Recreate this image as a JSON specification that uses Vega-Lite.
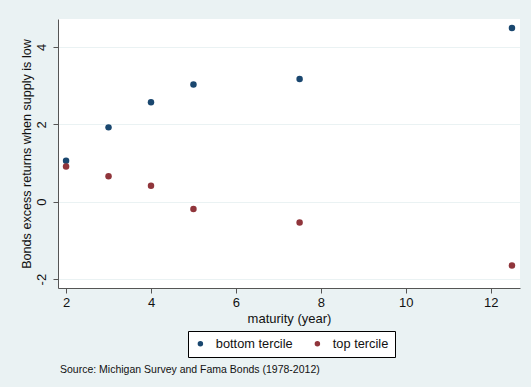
{
  "$schema": "https://vega.github.io/schema/vega-lite/v6.json",
  "width": 462,
  "height": 269,
  "autosize": {"type": "none"},
  "padding": {"left": 58, "top": 19, "right": 11, "bottom": 99},
  "background": "#eaf2f3",
  "config": {
    "view": {"fill": "white", "stroke": null},
    "font": "Liberation Sans"
  },
  "title": {
    "text": "Source: Michigan Survey and Fama Bonds (1978-2012)",
    "orient": "bottom",
    "anchor": "start",
    "fontSize": 10.5,
    "fontWeight": "normal",
    "color": "#111",
    "offset": 7,
    "dx": 40
  },
  "data": {
    "values": [
      {"maturity": 2, "value": 1.06, "group": "bottom tercile"},
      {"maturity": 3, "value": 1.92, "group": "bottom tercile"},
      {"maturity": 4, "value": 2.57, "group": "bottom tercile"},
      {"maturity": 5, "value": 3.03, "group": "bottom tercile"},
      {"maturity": 7.5, "value": 3.17, "group": "bottom tercile"},
      {"maturity": 12.5, "value": 4.49, "group": "bottom tercile"},
      {"maturity": 2, "value": 0.91, "group": "top tercile"},
      {"maturity": 3, "value": 0.66, "group": "top tercile"},
      {"maturity": 4, "value": 0.41, "group": "top tercile"},
      {"maturity": 5, "value": -0.19, "group": "top tercile"},
      {"maturity": 7.5, "value": -0.54, "group": "top tercile"},
      {"maturity": 12.5, "value": -1.65, "group": "top tercile"}
    ]
  },
  "mark": {"type": "circle", "size": 42, "opacity": 1},
  "encoding": {
    "x": {
      "field": "maturity",
      "type": "quantitative",
      "scale": {"domain": [1.81, 12.69], "nice": false, "zero": false},
      "axis": {
        "values": [2, 4, 6, 8, 10, 12],
        "title": "maturity (year)",
        "titleFontSize": 13,
        "titleFontWeight": "normal",
        "titleColor": "#111",
        "titlePadding": 3,
        "labelFontSize": 13,
        "labelColor": "#111",
        "labelPadding": 3,
        "tickSize": 5,
        "tickColor": "#555",
        "domainColor": "#555",
        "grid": false
      }
    },
    "y": {
      "field": "value",
      "type": "quantitative",
      "scale": {"domain": [-2.23, 4.72], "nice": false, "zero": false},
      "axis": {
        "values": [-2, 0, 2, 4],
        "labelExpr": "'' + datum.value",
        "title": "Bonds excess returns when supply is low",
        "titleFontSize": 12.6,
        "titleFontWeight": "normal",
        "titleColor": "#111",
        "titlePadding": 2,
        "labelFontSize": 13,
        "labelColor": "#111",
        "labelAngle": 270,
        "labelAlign": "center",
        "labelBaseline": "bottom",
        "labelPadding": 5,
        "tickSize": 5,
        "tickColor": "#555",
        "domainColor": "#555",
        "grid": true,
        "gridColor": "#eaf2f3",
        "gridWidth": 1
      }
    },
    "color": {
      "field": "group",
      "type": "nominal",
      "scale": {"domain": ["bottom tercile", "top tercile"], "range": ["#1a476f", "#90353b"]},
      "legend": {
        "title": null,
        "orient": "none",
        "direction": "horizontal",
        "legendX": 130,
        "legendY": 312,
        "strokeColor": "#000",
        "fillColor": "white",
        "padding": 6,
        "labelFontSize": 12.8,
        "labelColor": "#111",
        "symbolSize": 30,
        "symbolType": "circle",
        "columnPadding": 18,
        "labelOffset": 9
      }
    }
  }
}
